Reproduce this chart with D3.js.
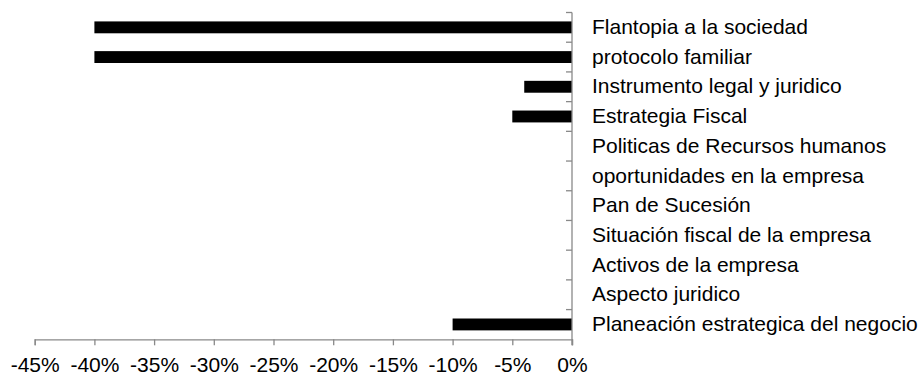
<!DOCTYPE html>
<html>
<head>
<meta charset="utf-8">
<script src="https://cdn.jsdelivr.net/npm/d3@7"></script>
<style>
  html, body { margin: 0; padding: 0; background: #fff; }
  svg { display: block; }
  text { font-family: "Liberation Sans", Arial, sans-serif; fill: #000; }
</style>
</head>
<body>
<div id="chart"></div>
<script>
// Categories listed top to bottom
const categories = [
  "Flantopia a la sociedad",
  "protocolo familiar",
  "Instrumento legal y juridico",
  "Estrategia Fiscal",
  "Politicas de Recursos humanos",
  "oportunidades en la empresa",
  "Pan de Sucesión",
  "Situación fiscal de la empresa",
  "Activos de la empresa",
  "Aspecto juridico",
  "Planeación estrategica del negocio"
];
// Share per category (fraction, negative values extend left of zero)
const values = [-0.40, -0.40, -0.04, -0.05, 0, 0, 0, 0, 0, 0, -0.10];
// Tick values on the percentage axis
const tickValues = [-0.45, -0.40, -0.35, -0.30, -0.25, -0.20, -0.15, -0.10, -0.05, 0];

const width = 923, height = 375;
const axisColor = "#898989";
const fontSize = 21;

const svg = d3.select("#chart").append("svg")
  .attr("width", width).attr("height", height);

const x = d3.scaleLinear().domain([-0.45, 0]).range([34.7, 572]);
const y = d3.scaleBand().domain(categories).range([12.5, 339.3])
  .paddingInner(0.6).paddingOuter(0.3);

const data = categories.map((c, i) => ({ cat: c, v: values[i] }));

// Bars
svg.append("g").selectAll("rect").data(data).join("rect")
  .attr("x", d => x(Math.min(0, d.v)))
  .attr("width", d => Math.abs(x(d.v) - x(0)))
  .attr("y", d => y(d.cat))
  .attr("height", y.bandwidth())
  .attr("fill", "#000");

// Horizontal percentage axis
const xAxis = svg.append("g")
  .attr("transform", `translate(0,${y.range()[1]})`)
  .call(d3.axisBottom(x).tickValues(tickValues)
    .tickFormat(d3.format(".0%")).tickSizeOuter(0).tickSize(6).tickPadding(12));
xAxis.select(".domain").attr("stroke", axisColor).attr("stroke-width", 1.3);
xAxis.selectAll(".tick line").attr("stroke", axisColor).attr("stroke-width", 1.3);
xAxis.selectAll(".tick text")
  .text(d => d3.format(".0%")(d).replace("−", "-"))
  .attr("font-size", fontSize).attr("font-family", "Liberation Sans, Arial, sans-serif")
  .attr("fill", "#000");

// Vertical category axis at zero with labels on the right
const bandTicks = d3.range(categories.length + 1).map(i => y.range()[0] + i * y.step());
const yAxis = svg.append("g");
yAxis.append("line")
  .attr("x1", x(0)).attr("x2", x(0))
  .attr("y1", y.range()[0]).attr("y2", y.range()[1] + 6)
  .attr("stroke", axisColor).attr("stroke-width", 1.3);
yAxis.selectAll("line.bt").data(bandTicks.slice(0, -1)).join("line")
  .attr("class", "bt")
  .attr("x1", x(0) - 6).attr("x2", x(0))
  .attr("y1", d => d).attr("y2", d => d)
  .attr("stroke", axisColor).attr("stroke-width", 1.3);
yAxis.selectAll("text").data(categories).join("text")
  .attr("x", x(0) + 20)
  .attr("y", d => y(d) + y.bandwidth() / 2)
  .attr("dy", "0.32em")
  .attr("font-size", fontSize)
  .text(d => d);
</script>
</body>
</html>
